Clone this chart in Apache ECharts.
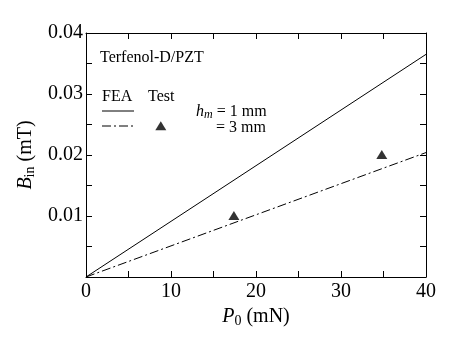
<!DOCTYPE html>
<html>
<head>
<meta charset="utf-8">
<script src="https://cdn.jsdelivr.net/npm/echarts@6/dist/echarts.min.js"></script>
<style>
  html, body { margin: 0; padding: 0; background: #fff; }
  #chart { width: 467px; height: 344px; }
</style>
</head>
<body>
<div id="chart"></div>
<script>
// FEA lines (P0 in mN, B_in in mT)
const fea1mm = [[0, 0], [40, 0.0365]];
const fea3mm = [[0, 0], [40, 0.0204]];
// test points
const testPoints = [[17.4, 0.0101], [34.8, 0.0201]];
// legend marker for "Test"
const legendTest = [[8.8, 0.0248]];
const xTicks = [0, 10, 20, 30, 40];
const yTicks = [0.01, 0.02, 0.03, 0.04];

const FONT = "'Liberation Serif', 'DejaVu Serif', serif";
const chart = echarts.init(document.getElementById("chart"));

// fresh object each time so axes don't share references
function ticks() {
  return {
    axisLine: { show: true, onZero: false, lineStyle: { color: "#000", width: 1 } },
    axisTick: { show: true, inside: true, length: 6, lineStyle: { color: "#000", width: 1 } },
    minorTick: { show: true, splitNumber: 2, length: 6, lineStyle: { color: "#000", width: 1 } },
    splitLine: { show: false },
  };
}

const titleStyle = {
  color: "#000", fontFamily: FONT, fontSize: 20,
  rich: {
    i: { fontStyle: "italic", fontFamily: FONT, fontSize: 20, color: "#000" },
    s: { fontFamily: FONT, fontSize: 14, color: "#000", verticalAlign: "bottom", padding: [8, 0, 0, 0] },
  },
};

const option = {
  animation: false,
  grid: { left: 86, right: 41, top: 33, bottom: 67 },
  xAxis: [
    Object.assign(ticks(), {
      type: "value", min: 0, max: 40, interval: 10, position: "bottom",
      name: "{i|P}{s|0} (mN)",
      nameLocation: "middle", nameGap: 25,
      nameTextStyle: titleStyle,
      axisLabel: {
        color: "#000", fontFamily: FONT, fontSize: 20, margin: 5,
        formatter: (v) => (xTicks.includes(v) ? String(v) : ""),
      },
    }),
    Object.assign(ticks(), {
      type: "value", min: 0, max: 40, interval: 10, position: "top",
      axisLabel: { show: false },
    }),
  ],
  yAxis: [
    Object.assign(ticks(), {
      type: "value", min: 0, max: 0.04, interval: 0.01, position: "left",
      name: "{i|B}{s|in} (mT)",
      nameLocation: "middle", nameGap: 48,
      nameTextStyle: titleStyle,
      axisLabel: {
        color: "#000", fontFamily: FONT, fontSize: 20, margin: 3,
        formatter: (v) => {
          const t = yTicks.find((y) => Math.abs(y - v) < 1e-9);
          return t ? t.toFixed(2) : "";
        },
      },
    }),
    Object.assign(ticks(), {
      type: "value", min: 0, max: 0.04, interval: 0.01, position: "right",
      axisLabel: { show: false },
    }),
  ],
  series: [
    {
      name: "hm = 1 mm", type: "line", data: fea1mm, symbol: "none",
      lineStyle: { color: "#000", width: 1 },
    },
    {
      name: "hm = 3 mm", type: "line", data: fea3mm, symbol: "none",
      lineStyle: { color: "#000", width: 1, type: [9, 3, 2, 3] },
    },
    {
      name: "Test", type: "scatter", data: testPoints.concat(legendTest),
      symbol: "triangle", symbolSize: [11, 9],
      itemStyle: { color: "#000" },
    },
    // empty series so the top/right axes are drawn
    { type: "line", xAxisIndex: 1, yAxisIndex: 1, data: [], silent: true },
  ],
  graphic: [
    { type: "text", left: 100, top: 50, style: { text: "Terfenol-D/PZT", font: "16px " + FONT, fill: "#000" } },
    { type: "text", left: 102, top: 89, style: { text: "FEA", font: "16px " + FONT, fill: "#000" } },
    { type: "text", left: 148, top: 89, style: { text: "Test", font: "16px " + FONT, fill: "#000" } },
    { type: "line", shape: { x1: 102, y1: 111, x2: 134, y2: 111 }, style: { stroke: "#000", lineWidth: 1 } },
    { type: "line", shape: { x1: 102, y1: 126, x2: 134, y2: 126 }, style: { stroke: "#000", lineWidth: 1, lineDash: [9, 3, 2, 3] } },
    {
      type: "text", left: 196, top: 104,
      style: {
        text: "{i|h}{s|m} = 1 mm",
        font: "16px " + FONT, fill: "#000",
        rich: {
          i: { fontStyle: "italic", fontFamily: FONT, fontSize: 16, fill: "#000" },
          s: { fontStyle: "italic", fontFamily: FONT, fontSize: 12, fill: "#000", verticalAlign: "bottom", padding: [6, 0, 0, 0] },
        },
      },
    },
    { type: "text", left: 216, top: 120, style: { text: "= 3 mm", font: "16px " + FONT, fill: "#000" } },
  ],
};

chart.setOption(option);
</script>
</body>
</html>
